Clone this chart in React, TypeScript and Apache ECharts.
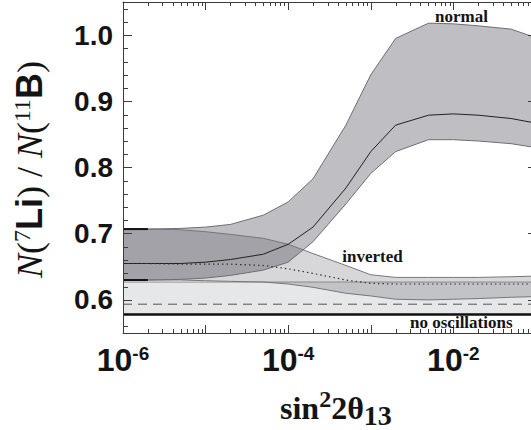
import React, { useEffect, useRef } from 'react';
import * as echarts from 'echarts';

// ---------- axis ranges ----------
const X_MIN = 1e-6;
const X_MAX = 0.103;
const Y_MIN = 0.55;
const Y_MAX = 1.05;

// ---------- data ----------
const xGrid = [1e-6, 2e-6, 5e-6, 1e-5, 2e-5, 5e-5, 1e-4, 2e-4, 5e-4, 1e-3, 2e-3, 5e-3, 1e-2, 2e-2, 5e-2, 1e-1];

const normalUpper = [0.707, 0.707, 0.708, 0.710, 0.714, 0.728, 0.748, 0.783, 0.864, 0.940, 0.995, 1.018, 1.017, 1.014, 1.009, 0.996];
const normalCentral = [0.655, 0.655, 0.655, 0.657, 0.661, 0.669, 0.684, 0.710, 0.769, 0.824, 0.864, 0.879, 0.881, 0.879, 0.874, 0.867];
const normalLower = [0.630, 0.630, 0.631, 0.633, 0.637, 0.645, 0.657, 0.688, 0.745, 0.791, 0.824, 0.842, 0.842, 0.840, 0.836, 0.830];

const invertedUpper = [0.707, 0.707, 0.706, 0.703, 0.699, 0.693, 0.684, 0.670, 0.652, 0.638, 0.634, 0.634, 0.634, 0.634, 0.635, 0.636];
const invertedCentral = [0.655, 0.655, 0.654, 0.654, 0.654, 0.652, 0.647, 0.640, 0.630, 0.625, 0.624, 0.624, 0.624, 0.624, 0.624, 0.624];
const invertedLower = [0.630, 0.630, 0.630, 0.629, 0.628, 0.627, 0.624, 0.619, 0.610, 0.606, 0.601, 0.600, 0.601, 0.602, 0.604, 0.605];

const noOscX = [1e-6, 1e-1];
const noOscUpper = [0.627, 0.627];
const noOscCentral = [0.5935, 0.5935];
const noOscLower = [0.578, 0.578];

const startMarkX = [1e-6, 2e-6];
const startMarkUpper = [0.707, 0.707];
const startMarkLower = [0.630, 0.630];

// tick positions
const xMinorTicks: number[] = [];
for (let e = -6; e <= -2; e++) for (let k = 2; k <= 9; k++) xMinorTicks.push(k * Math.pow(10, e));
const yMinorTicks = [0.56, 0.58, 0.62, 0.64, 0.66, 0.68, 0.72, 0.74, 0.76, 0.78, 0.82, 0.84, 0.86, 0.88, 0.92, 0.94, 0.96, 0.98, 1.02, 1.04];

const SERIF = '"Liberation Serif", "Times New Roman", serif';
const SANS = '"Liberation Sans", Arial, sans-serif';
const INK = '#141414';
const AXIS = '#3c3c3c';

type Seg = { text: string; size: number; weight?: string; style?: string; family: string; shift?: number };

const yTitleSegs: Seg[] = [
  { text: 'N', size: 36, style: 'italic', family: SERIF },
  { text: '(', size: 36, family: SERIF },
  { text: '7', size: 24, family: SERIF, shift: 12 },
  { text: 'Li', size: 36, weight: 'bold', family: SANS },
  { text: ') / ', size: 36, family: SERIF },
  { text: 'N', size: 36, style: 'italic', family: SERIF },
  { text: '(', size: 36, family: SERIF },
  { text: '11', size: 24, family: SERIF, shift: 12 },
  { text: 'B', size: 36, weight: 'bold', family: SANS },
  { text: ')', size: 36, family: SERIF },
];

const xTitleSegs: Seg[] = [
  { text: 'sin', size: 32, weight: 'bold', family: SERIF },
  { text: '2', size: 24, weight: 'bold', family: SERIF, shift: 12 },
  { text: '2θ', size: 32, weight: 'bold', family: SERIF },
  { text: '13', size: 28, weight: 'bold', family: SERIF, shift: -6 },
];

function fontOf(s: Seg) {
  return `${s.style || 'normal'} ${s.weight || 'normal'} ${s.size}px ${s.family}`;
}

function buildRun(segs: Seg[]) {
  const canvas = document.createElement('canvas');
  const ctx = canvas.getContext('2d')!;
  let u = 0;
  const els: any[] = [];
  segs.forEach((s) => {
    const font = fontOf(s);
    ctx.font = font;
    const w = ctx.measureText(s.text).width;
    els.push({
      type: 'text',
      x: u,
      y: -(s.shift || 0) - 0.34 * s.size,
      style: {
        text: s.text,
        font,
        fill: INK,
        align: 'left',
        verticalAlign: 'middle',
        textAlign: 'left',
        textVerticalAlign: 'middle',
      },
    });
    u += w;
  });
  return els;
}

function bandSeries(xs: number[], lo: number[], hi: number[], fill: string, z: number) {
  return {
    type: 'custom',
    coordinateSystem: 'cartesian2d',
    xAxisIndex: 0,
    yAxisIndex: 0,
    silent: true,
    z,
    data: xs.map((x, i) => [x, lo[i], hi[i]]),
    encode: { x: 0, y: [1, 2] },
    renderItem: (params: any, api: any) => {
      if (params.dataIndex !== 0) return null;
      const pts: number[][] = [];
      for (let i = 0; i < xs.length; i++) pts.push(api.coord([xs[i], hi[i]]));
      for (let i = xs.length - 1; i >= 0; i--) pts.push(api.coord([xs[i], lo[i]]));
      return { type: 'polygon', shape: { points: pts }, style: { fill, stroke: 'none' } };
    },
  };
}

function lineSeries(xs: number[], ys: number[], color: string, width: number, type: any, z: number) {
  return {
    type: 'line',
    xAxisIndex: 0,
    yAxisIndex: 0,
    silent: true,
    clip: true,
    z,
    showSymbol: false,
    symbol: 'none',
    data: xs.map((x, i) => [x, ys[i]]),
    lineStyle: { color, width, type },
  };
}

export default function App() {
  const ref = useRef<HTMLDivElement>(null);
  useEffect(() => {
    const chart = echarts.init(ref.current!, null, { renderer: 'svg' });

    const axisLineStyle = { color: AXIS, width: 1 };
    const fmtX = (v: number) => {
      const e = Math.log10(v);
      const r = Math.round(e);
      if (Math.abs(e - r) > 1e-6 || r % 2 !== 0) return '';
      return '{b|10}{s|' + r + '}';
    };
    const fmtY = (v: number) => {
      if (Math.abs(v * 10 - Math.round(v * 10)) > 1e-6) return '';
      return v.toFixed(1);
    };

    const minorTickSeries = {
      type: 'custom',
      coordinateSystem: 'cartesian2d',
      silent: true,
      z: 6,
      data: [[X_MIN, Y_MIN]],
      renderItem: (params: any, api: any) => {
        if (params.dataIndex !== 0) return null;
        const ch: any[] = [];
        const st = { stroke: AXIS, lineWidth: 1 };
        xMinorTicks.forEach((v) => {
          const b = api.coord([v, Y_MIN]);
          const t = api.coord([v, Y_MAX]);
          const x = Math.round(b[0]) + 0.5;
          ch.push({ type: 'line', shape: { x1: x, y1: b[1], x2: x, y2: b[1] - 4 }, style: st });
          ch.push({ type: 'line', shape: { x1: x, y1: t[1], x2: x, y2: t[1] + 4 }, style: st });
        });
        yMinorTicks.forEach((v) => {
          const l = api.coord([X_MIN, v]);
          const r = api.coord([X_MAX, v]);
          const y = Math.round(l[1]) + 0.5;
          ch.push({ type: 'line', shape: { x1: l[0], y1: y, x2: l[0] + 5, y2: y }, style: st });
          ch.push({ type: 'line', shape: { x1: r[0], y1: y, x2: r[0] - 5, y2: y }, style: st });
        });
        return { type: 'group', children: ch };
      },
    };

    const xAxisBase = {
      type: 'log',
      logBase: 10,
      min: X_MIN,
      max: X_MAX,
      splitNumber: 5,
      z: 5,
      axisLine: { show: true, onZero: false, lineStyle: axisLineStyle },
      axisTick: { show: true, inside: true, length: 8, lineStyle: axisLineStyle },
      minorTick: { show: false },
      splitLine: { show: false },
    };
    const yAxisBase = {
      type: 'value',
      min: Y_MIN,
      max: Y_MAX,
      splitNumber: 5,
      z: 5,
      axisLine: { show: true, onZero: false, lineStyle: axisLineStyle },
      axisTick: { show: true, inside: true, length: 9, lineStyle: axisLineStyle },
      minorTick: { show: false },
      splitLine: { show: false },
    };

    const option: any = {
      animation: false,
      backgroundColor: '#ffffff',
      grid: { left: 123, right: -6, top: 2, bottom: 97, containLabel: false, outerBoundsMode: 'none' },
      xAxis: [
        {
          ...xAxisBase,
          position: 'bottom',
          axisLabel: {
            show: true,
            margin: 11,
            formatter: fmtX,
            rich: {
              b: { fontSize: 32, fontWeight: 'bold', fontFamily: SANS, color: INK, lineHeight: 32 },
              s: { fontSize: 19, fontWeight: 'bold', fontFamily: SANS, color: INK, lineHeight: 20, verticalAlign: 'top' },
            },
          },
        },
        { ...xAxisBase, position: 'top', axisLabel: { show: false } },
      ],
      yAxis: [
        {
          ...yAxisBase,
          position: 'left',
          axisLabel: { show: true, margin: 10, formatter: fmtY, fontSize: 28, fontWeight: 'bold', fontFamily: SANS, color: INK },
        },
        { ...yAxisBase, position: 'right', axisLabel: { show: false } },
      ],
      series: [
        bandSeries(noOscX, noOscLower, noOscUpper, '#e6e7e8', 1),
        bandSeries(xGrid, invertedLower, invertedUpper, 'rgba(40,40,55,0.19)', 2),
        bandSeries(xGrid, normalLower, normalUpper, 'rgba(40,40,55,0.30)', 3),
        lineSeries(noOscX, noOscUpper, '#8a8a8c', 1, 'solid', 4),
        lineSeries(noOscX, noOscCentral, '#555555', 1, [9, 6], 4),
        lineSeries(noOscX, noOscLower, '#111111', 2.5, 'solid', 4),
        lineSeries(xGrid, invertedUpper, '#77777a', 1, 'solid', 4),
        lineSeries(xGrid, invertedLower, '#77777a', 1, 'solid', 4),
        lineSeries(xGrid, normalUpper, '#6e6e72', 1, 'solid', 4),
        lineSeries(xGrid, normalLower, '#6e6e72', 1, 'solid', 4),
        lineSeries(xGrid, normalCentral, '#222222', 1, 'solid', 4),
        lineSeries(xGrid, invertedCentral, '#333333', 1.2, [1.5, 3], 4),
        lineSeries(startMarkX, startMarkUpper, '#111111', 2, 'solid', 4),
        lineSeries(startMarkX, startMarkLower, '#111111', 2, 'solid', 4),
        minorTickSeries,
      ],
      graphic: [
        { type: 'group', x: 42, y: 278, rotation: Math.PI / 2, z: 10, silent: true, children: buildRun(yTitleSegs) },
        { type: 'group', x: 280, y: 419, z: 10, silent: true, children: buildRun(xTitleSegs) },
        {
          type: 'text', x: 461.5, y: 16, z: 10, silent: true,
          style: { text: 'normal', font: `bold 17px ${SERIF}`, fill: INK, align: 'center', verticalAlign: 'middle', textAlign: 'center', textVerticalAlign: 'middle' },
        },
        {
          type: 'text', x: 372.5, y: 256, z: 10, silent: true,
          style: { text: 'inverted', font: `bold 17px ${SERIF}`, fill: INK, align: 'center', verticalAlign: 'middle', textAlign: 'center', textVerticalAlign: 'middle' },
        },
        {
          type: 'text', x: 461.3, y: 322.5, z: 10, silent: true,
          style: { text: 'no oscillations', font: `bold 17px ${SERIF}`, fill: INK, align: 'center', verticalAlign: 'middle', textAlign: 'center', textVerticalAlign: 'middle' },
        },
      ],
    };

    chart.setOption(option);
    return () => chart.dispose();
  }, []);

  return <div ref={ref} style={{ position: 'fixed', left: 0, top: 0, width: 531, height: 430 }} />;
}
